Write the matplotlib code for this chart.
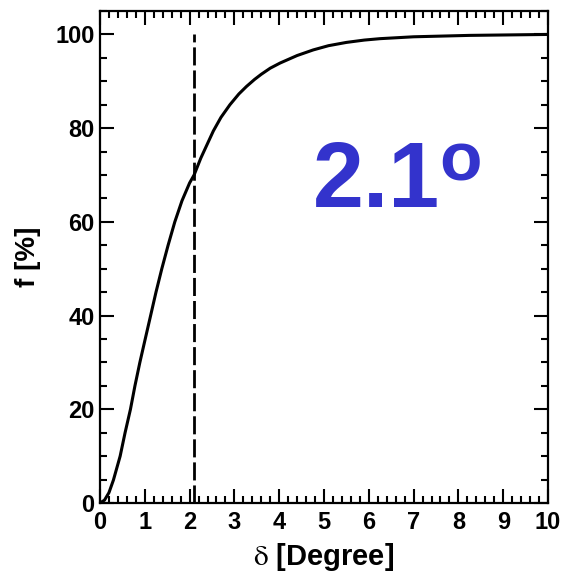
import numpy as np
import matplotlib
matplotlib.use('Agg')
import matplotlib.pyplot as plt
from matplotlib.ticker import MultipleLocator

# cumulative fraction of events vs. angular separation
delta = [0, 0.1, 0.2, 0.30, 0.45, 0.56, 0.68, 0.78, 0.89, 1.0, 1.13, 1.25,
         1.38, 1.52, 1.67, 1.83, 2.0, 2.1, 2.25, 2.53, 2.7, 2.9, 3.1, 3.27,
         3.45, 3.6, 3.8, 4.02, 4.4, 4.76, 5.1, 5.5, 5.9, 6.25, 7.0, 8.25, 10]
frac = [0, 0.6, 2.2, 4.9, 10, 15, 20, 25, 30, 34.6, 40, 45,
        50, 55, 60, 64.5, 68.3, 70, 73.6, 79.4, 82.3, 85, 87.3, 88.9,
        90.4, 91.5, 92.8, 93.9, 95.5, 96.7, 97.6, 98.3, 98.8, 99.1, 99.5, 99.8, 100]
delta_cut = 2.1
cut_label = '2.1'

plt.rcParams['font.family'] = ['Liberation Sans', 'DejaVu Sans']
plt.rcParams['mathtext.fontset'] = 'stix'

fig = plt.figure(figsize=(5.63, 5.80), dpi=100)
ax = fig.add_axes([0.1776, 0.1328, 0.7958, 0.8482])

ax.plot(delta, frac, color='black', lw=2.2)
ax.plot([delta_cut, delta_cut], [0, 100], color='black', lw=2.0,
        dashes=(6.5, 1.8))

ax.set_xlim(0, 10)
ax.set_ylim(0, 105)
ax.xaxis.set_major_locator(MultipleLocator(1))
ax.xaxis.set_minor_locator(MultipleLocator(0.2))
ax.yaxis.set_minor_locator(MultipleLocator(5))
ax.set_yticks([0, 20, 40, 60, 80, 100])

ax.tick_params(which='both', direction='in', top=True, right=True,
               width=1.5, labelsize=17)
ax.tick_params(which='major', length=10)
ax.tick_params(which='minor', length=5)
ax.tick_params(axis='x', which='major', pad=6)
ax.tick_params(axis='y', which='major', pad=4)
for lab in ax.get_xticklabels() + ax.get_yticklabels():
    lab.set_fontweight('bold')
for sp in ax.spines.values():
    sp.set_linewidth(1.6)

ax.set_xlabel(r'$\mathrm{\delta}$ [Degree]', fontsize=21, fontweight='bold',
              labelpad=5)
ax.set_ylabel('f [%]', fontsize=20, fontweight='bold', labelpad=10)

ax.text(0.475, 0.602, cut_label, transform=ax.transAxes, fontsize=66,
        fontweight='bold', color='#3333cc', va='baseline', ha='left')
ax.text(0.757, 0.656, 'o', transform=ax.transAxes, fontsize=50,
        fontweight='bold', color='#3333cc', va='baseline', ha='left')

fig.savefig('out.png', dpi=100)
